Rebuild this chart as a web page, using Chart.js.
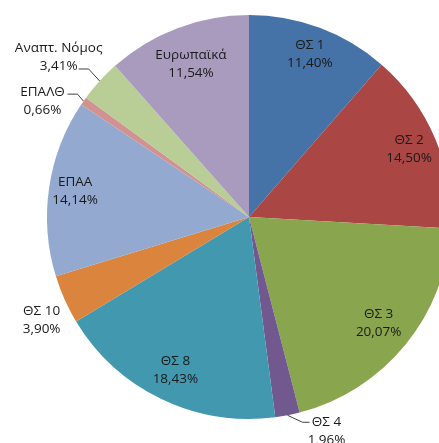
<!DOCTYPE html>
<html>
<head>
<meta charset="utf-8">
<script src="https://cdn.jsdelivr.net/npm/chart.js@4/dist/chart.umd.min.js"></script>
<style>
  html, body { margin: 0; padding: 0; background: #fff; }
  #wrap { width: 439px; height: 443px; overflow: hidden; position: relative; }
  #chart { position: absolute; left: 0; top: 0; }
</style>
</head>
<body>
<div id="wrap"><canvas id="chart" width="498" height="443"></canvas></div>
<script>
// shares of the budget, in %
const categories = ['ΘΣ 1', 'ΘΣ 2', 'ΘΣ 3', 'ΘΣ 4', 'ΘΣ 8', 'ΘΣ 10', 'ΕΠΑΑ', 'ΕΠΑΛΘ', 'Αναπτ. Νόμος', 'Ευρωπαϊκά'];
const shares = [11.40, 14.50, 20.07, 1.96, 18.43, 3.90, 14.14, 0.66, 3.41, 11.54];
const colors = ['#4572A7', '#AA4643', '#89A54E', '#71588F', '#4198AF', '#DB843D', '#93A9CF', '#D19392', '#B9CD96', '#A99BBD'];

// where each label goes: inside at a fraction of the radius, or outside relative to the slice edge
const labelPlace = [
  { r: 0.86 },
  { r: 0.86 },
  { r: 0.83 },
  { text: [39, 7], line: [[15, 7], [22, 7]] },
  { r: 0.84 },
  { text: [-23, 12] },
  { r: 0.87 },
  { text: [-41, -9], line: [[-6, -7], [-16, -7]] },
  { text: [-41, -33], line: [[-11, -12], [-21, -12]] },
  { r: 0.81 }
];

const fmt = v => v.toFixed(2).replace('.', ',') + '%';

const pieLabels = {
  id: 'pieLabels',
  afterDatasetsDraw(chart) {
    const ctx = chart.ctx;
    const arcs = chart.getDatasetMeta(0).data;
    ctx.save();
    ctx.font = '13.5px "Open Sans"';
    ctx.fillStyle = '#1a1a1a';
    ctx.strokeStyle = '#404040';
    ctx.lineWidth = 1;
    ctx.textAlign = 'center';
    ctx.textBaseline = 'middle';
    arcs.forEach((arc, i) => {
      const { x, y, startAngle, endAngle, outerRadius } = arc.getProps(['x', 'y', 'startAngle', 'endAngle', 'outerRadius'], true);
      const mid = (startAngle + endAngle) / 2;
      const p = labelPlace[i];
      let tx, ty;
      if (p.r) {
        tx = x + Math.cos(mid) * outerRadius * p.r;
        ty = y + Math.sin(mid) * outerRadius * p.r;
        ty -= 9;
      } else {
        const ex = x + Math.cos(mid) * outerRadius;
        const ey = y + Math.sin(mid) * outerRadius;
        if (p.line) {
          ctx.beginPath();
          ctx.moveTo(ex, ey);
          p.line.forEach(pt => ctx.lineTo(ex + pt[0], ey + pt[1]));
          ctx.stroke();
        }
        tx = ex + p.text[0];
        ty = ey + p.text[1];
      }
      ctx.fillText(categories[i], tx, ty);
      ctx.fillText(fmt(shares[i]), tx, ty + 18);
    });
    ctx.restore();
  }
};

new Chart(document.getElementById('chart'), {
  type: 'pie',
  data: {
    labels: categories,
    datasets: [{
      data: shares,
      backgroundColor: colors,
      borderWidth: 0,
      offset: 0,
      hoverOffset: 0
    }]
  },
  options: {
    responsive: false,
    animation: false,
    layout: { padding: { top: 15, bottom: 24, left: 0, right: 0 } },
    plugins: {
      legend: { display: false },
      tooltip: { enabled: false }
    }
  },
  plugins: [pieLabels]
});
</script>
</body>
</html>
